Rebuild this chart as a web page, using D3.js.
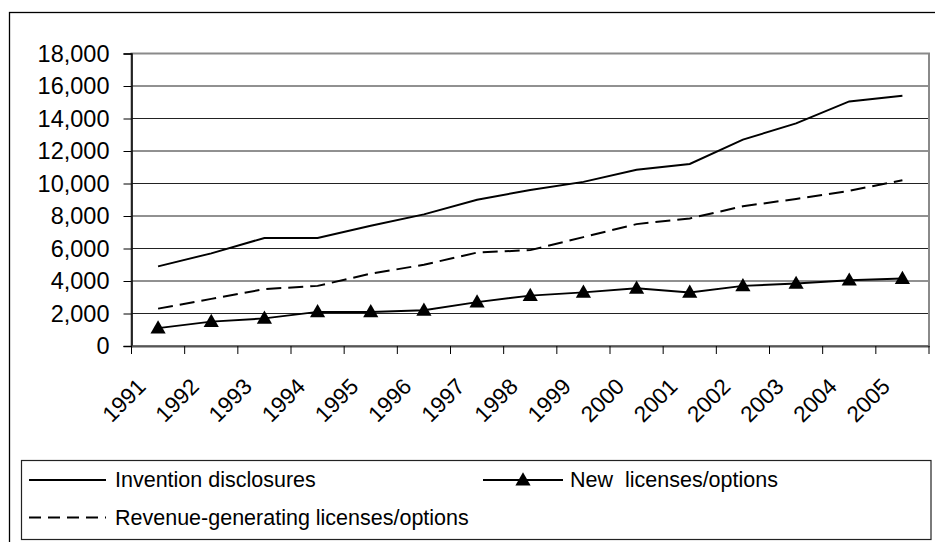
<!DOCTYPE html>
<html><head><meta charset="utf-8">
<script src="https://cdn.jsdelivr.net/npm/d3@7"></script>
<style>
html,body{margin:0;padding:0;background:#fff;}
svg{display:block;font-family:"Liberation Sans",Arial,sans-serif;}
</style></head>
<body>
<svg id="chart" width="935" height="542"></svg>
<script>
const years = ["1991","1992","1993","1994","1995","1996","1997","1998","1999","2000","2001","2002","2003","2004","2005"];
const inventionDisclosures = [4900,5700,6650,6650,7400,8100,9000,9600,10100,10850,11200,12700,13700,15050,15400];
const newLicenses = [1100,1500,1700,2100,2100,2200,2700,3100,3300,3550,3300,3700,3850,4050,4150];
const revenueLicenses = [2300,2900,3500,3700,4450,5000,5750,5900,6700,7500,7850,8600,9050,9550,10200];
const yTicks = [0,2000,4000,6000,8000,10000,12000,14000,16000,18000];
const seriesNames = ["Invention disclosures","New  licenses/options","Revenue-generating licenses/options"];

const svg = d3.select("#chart");
const L = 131.5, R = 929, T = 53.5, B = 346;

// outer border
svg.append("rect").attr("x",9.5).attr("y",12.5).attr("width",940).attr("height",560)
  .attr("fill","none").attr("stroke","#000").attr("stroke-width",1.3);

const x = d3.scaleBand().domain(years).range([L,R]);
const y = d3.scaleLinear().domain([0,18000]).range([B,T]);
const cx = d => x(d) + x.bandwidth()/2;

// gridlines
svg.append("g").selectAll("line").data(yTicks.filter(v=>v>0 && v<18000)).join("line")
  .attr("x1",L).attr("x2",R).attr("y1",d=>y(d)).attr("y2",d=>y(d))
  .attr("stroke","#222").attr("stroke-width",1);

// plot border
svg.append("rect").attr("x",L).attr("y",T).attr("width",R-L).attr("height",B-T)
  .attr("fill","none").attr("stroke","#8a8a8a").attr("stroke-width",2);

// y axis
const yAxis = svg.append("g").attr("transform",`translate(${L},0)`)
  .call(d3.axisLeft(y).tickValues(yTicks).tickSize(8).tickPadding(14).tickFormat(d3.format(",")));
yAxis.select(".domain").attr("stroke","#000").attr("stroke-width",1.5);
yAxis.selectAll(".tick line").attr("stroke","#000");
yAxis.selectAll("text").attr("font-size",23.5).attr("fill","#000")
  .attr("font-family","Liberation Sans, Arial, sans-serif");

// x axis
const xAxis = svg.append("g").attr("transform",`translate(0,${B})`)
  .call(d3.axisBottom(x).tickSize(0).tickPadding(0));
xAxis.select(".domain").attr("stroke","#555").attr("stroke-width",2);
xAxis.selectAll(".tick text").attr("font-size",22.5).attr("fill","#000")
  .attr("font-family","Liberation Sans, Arial, sans-serif")
  .attr("text-anchor","end").attr("dy",0).attr("y",0)
  .attr("transform",`translate(-11,42) rotate(-45)`);
// boundary ticks
svg.append("g").selectAll("line").data(years.map(d=>x(d)).concat([R])).join("line")
  .attr("x1",d=>d).attr("x2",d=>d).attr("y1",B).attr("y2",B+8)
  .attr("stroke","#000").attr("stroke-width",1);

const line = d3.line().x((d,i)=>cx(years[i])).y(d=>y(d));

svg.append("path").datum(inventionDisclosures).attr("d",line)
  .attr("fill","none").attr("stroke","#000").attr("stroke-width",2);
svg.append("path").datum(revenueLicenses).attr("d",line)
  .attr("fill","none").attr("stroke","#000").attr("stroke-width",2).attr("stroke-dasharray","15,7");
svg.append("path").datum(newLicenses).attr("d",line)
  .attr("fill","none").attr("stroke","#000").attr("stroke-width",2);

const tri = d3.symbol().type(d3.symbolTriangle).size(100);
svg.append("g").selectAll("path").data(newLicenses).join("path")
  .attr("d",tri).attr("transform",(d,i)=>`translate(${cx(years[i])},${y(d)+1})`)
  .attr("fill","#000");

// legend
const lg = svg.append("g");
lg.append("rect").attr("x",21.5).attr("y",460.5).attr("width",909.5).attr("height",79)
  .attr("fill","none").attr("stroke","#222").attr("stroke-width",1.2);
lg.append("line").attr("x1",29).attr("x2",106).attr("y1",480).attr("y2",480)
  .attr("stroke","#000").attr("stroke-width",2);
lg.append("text").attr("x",115).attr("y",487).attr("font-size",21.5).text(seriesNames[0]);
lg.append("line").attr("x1",483).attr("x2",563).attr("y1",480).attr("y2",480)
  .attr("stroke","#000").attr("stroke-width",2);
lg.append("path").attr("d",tri).attr("transform","translate(523,481)").attr("fill","#000");
lg.append("text").attr("x",570).attr("y",487).attr("font-size",21.5).attr("xml:space","preserve")
  .style("white-space","pre").text(seriesNames[1]);
lg.append("line").attr("x1",29).attr("x2",106).attr("y1",517.5).attr("y2",517.5)
  .attr("stroke","#000").attr("stroke-width",2).attr("stroke-dasharray","12,7");
lg.append("text").attr("x",115).attr("y",525).attr("font-size",21.5).text(seriesNames[2]);
</script>
</body></html>
